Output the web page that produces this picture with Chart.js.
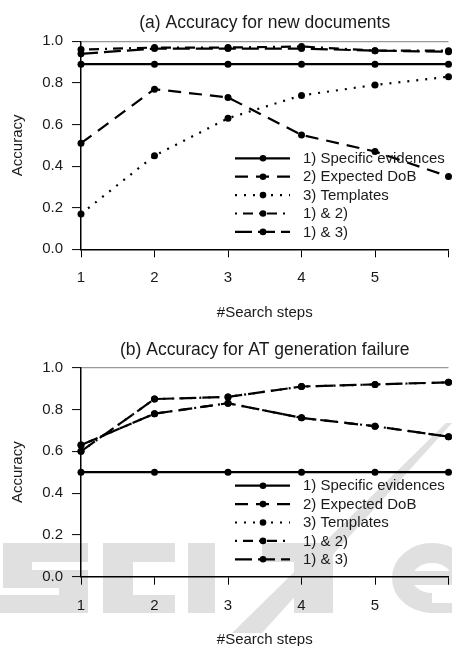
<!DOCTYPE html>
<html><head><meta charset="utf-8">
<script src="https://cdn.jsdelivr.net/npm/chart.js@4.4.1/dist/chart.umd.min.js"></script>
<style>
html,body{margin:0;padding:0;background:#fff;width:452px;height:646px;overflow:hidden;}
.box{position:absolute;left:0;width:452px;}
</style></head><body>
<div class="box" style="top:0;height:323px"><canvas id="ca"></canvas></div>
<div class="box" style="top:323px;height:330px"><canvas id="cb"></canvas></div>
<script>
// ---- data ----
const steps = [1, 2, 3, 4, 5, 6];
const stepLabelsShown = ['1', '2', '3', '4', '5', ''];
const yTicks = [0.0, 0.2, 0.4, 0.6, 0.8, 1.0];
const seriesNames = ['1) Specific evidences', '2) Expected DoB', '3) Templates', '1) & 2)', '1) & 3)'];

const titleA = '(a) Accuracy for new documents';
const a_specific = [0.89, 0.89, 0.89, 0.89, 0.89, 0.89];
const a_dob      = [0.51, 0.77, 0.73, 0.55, 0.47, 0.35];
const a_templ    = [0.17, 0.45, 0.63, 0.74, 0.79, 0.83];
const a_1and2    = [0.96, 0.97, 0.97, 0.975, 0.955, 0.955];
const a_1and3    = [0.94, 0.965, 0.965, 0.965, 0.955, 0.95];

const titleB = '(b) Accuracy for AT generation failure';
const b_specific = [0.50, 0.50, 0.50, 0.50, 0.50, 0.50];
const b_dob      = [0.63, 0.78, 0.83, 0.76, 0.72, 0.67];
const b_templ    = [0.60, 0.85, 0.86, 0.91, 0.92, 0.93];
const b_1and2    = [0.63, 0.78, 0.83, 0.76, 0.72, 0.67];
const b_1and3    = [0.60, 0.85, 0.86, 0.91, 0.92, 0.93];

const xTitle = '#Search steps';
const yTitle = 'Accuracy';

// ---- styles ----
const FONT = "'Liberation Sans', Arial, Helvetica, sans-serif";
const dashes = [[], [13, 8], [2, 7], [2, 6, 10, 6], [17, 6]];

// faint publisher watermark shapes behind panel (b) (canvas coords of panel b)
function drawWatermark(ctx) {
  ctx.save();
  const G = '#e0e0e0';
  ctx.fillStyle = G;
  const r = (x, y, w, h) => ctx.fillRect(x, y, w, h);
  const T = 220, B = 290; // top / bottom of letters
  // S
  r(3, T, 85, 19); r(3, T, 29, 38); r(3, T + 27, 85, 18); r(59, T + 27, 29, 43); r(0, B - 18, 88, 18);
  // C
  r(103, T, 72, 19); r(103, T, 30, 70); r(103, B - 18, 72, 18);
  // I
  r(188, T, 27, 70);
  // slash
  ctx.beginPath();
  ctx.moveTo(232, B + 20); ctx.lineTo(262, B + 20); ctx.lineTo(452, 100); ctx.lineTo(446, 100);
  ctx.closePath(); ctx.fill();
  // T
  r(262, T, 71, 19); r(294, T, 39, 70);
  // e
  ctx.beginPath();
  ctx.lineWidth = 20; ctx.strokeStyle = G;
  ctx.ellipse(432, T + 35, 30, 25, 0, Math.PI * 0.5, Math.PI * 2.0);
  ctx.stroke();
  r(402, T + 28, 70, 14); r(428, B - 10, 26, 10);
  ctx.restore();
}

function decoPlugin(cfg) {
  return {
    id: 'customDeco' + cfg.id,
    beforeDraw(chart) {
      if (cfg.watermark) drawWatermark(chart.ctx);
    },
    afterDraw(chart) {
      const ctx = chart.ctx, ca = chart.chartArea;
      ctx.save();
      // title
      ctx.fillStyle = '#1a1a1a';
      ctx.font = '17.5px ' + FONT;
      ctx.textAlign = 'center';
      ctx.textBaseline = 'middle';
      ctx.fillText(cfg.title, (ca.left + ca.right) / 2, cfg.titleY);
      // legend
      ctx.font = '15px ' + FONT;
      ctx.textAlign = 'left';
      for (let i = 0; i < seriesNames.length; i++) {
        const y = ca.top + cfg.legTop + i * 18.4;
        ctx.strokeStyle = '#000';
        ctx.lineWidth = 2.2;
        ctx.setLineDash(dashes[i]);
        ctx.beginPath();
        ctx.moveTo(235, y); ctx.lineTo(290, y);
        ctx.stroke();
        ctx.setLineDash([]);
        ctx.fillStyle = '#000';
        ctx.beginPath(); ctx.arc(263, y, 3.3, 0, Math.PI * 2); ctx.fill();
        ctx.fillStyle = '#1a1a1a';
        ctx.fillText(seriesNames[i], 303, y + 0.5);
      }
      ctx.restore();
    }
  };
}

function makeChart(id, cfg) {
  const datasets = cfg.series.map((d, i) => ({
    label: seriesNames[i],
    data: d,
    borderColor: '#000',
    backgroundColor: '#000',
    borderWidth: 2.2,
    borderDash: dashes[i],
    pointRadius: 3.5,
    pointHoverRadius: 3.5,
    pointBackgroundColor: '#000',
    pointBorderWidth: 0,
    tension: 0,
    clip: false,
    fill: false
  }));
  return new Chart(document.getElementById(id), {
    type: 'line',
    data: { labels: steps, datasets },
    options: {
      responsive: true,
      maintainAspectRatio: false,
      animation: false,
      events: [],
      layout: { padding: { top: cfg.padTop, left: 0, right: 0, bottom: 0 } },
      plugins: { legend: { display: false }, title: { display: false }, tooltip: { enabled: false } },
      scales: {
        x: {
          type: 'category',
          offset: false,
          afterFit(s) { s.height = cfg.xH; s.paddingLeft = 0; s.paddingRight = 0; },
          grid: { drawOnChartArea: false, drawTicks: true, tickLength: 8, tickColor: '#000', tickWidth: 1, offset: false },
          border: { display: true, color: '#000', width: 1.5 },
          ticks: {
            color: '#1a1a1a', font: { family: FONT, size: 15 }, padding: 12,
            maxRotation: 0, autoSkip: false,
            callback: (v, i) => stepLabelsShown[i]
          },
          title: { display: true, text: xTitle, color: '#1a1a1a', font: { family: FONT, size: 15 }, padding: { top: 0, bottom: cfg.xTitlePad } }
        },
        y: {
          min: 0, max: 1,
          afterFit(s) { s.width = 81; },
          afterBuildTicks(s) { s.ticks = yTicks.map(v => ({ value: v })); },
          grid: {
            drawOnChartArea: true, drawTicks: true, tickLength: 9, tickColor: '#000', tickWidth: 1,
            color: (c) => (c.tick && Math.abs(c.tick.value - 1) < 1e-9) ? '#999' : 'rgba(0,0,0,0)',
            lineWidth: 1.2
          },
          border: { display: true, color: '#000', width: 1.5 },
          ticks: { color: '#1a1a1a', font: { family: FONT, size: 15 }, padding: 9, callback: (v) => Number(v).toFixed(1) },
          title: { display: true, text: yTitle, color: '#1a1a1a', font: { family: FONT, size: 15 }, padding: { top: 9, bottom: 0 } }
        }
      }
    },
    plugins: [decoPlugin(cfg)]
  });
}

makeChart('ca', {
  id: 'a', title: titleA, titleY: 23, padTop: 41.3, xH: 73.7, xTitlePad: 1, legTop: 117, watermark: false,
  series: [a_specific, a_dob, a_templ, a_1and2, a_1and3]
});
makeChart('cb', {
  id: 'b', title: titleB, titleY: 27, padTop: 44.7, xH: 76.3, xTitlePad: 4, legTop: 118, watermark: true,
  series: [b_specific, b_dob, b_templ, b_1and2, b_1and3]
});
</script>
</body></html>
